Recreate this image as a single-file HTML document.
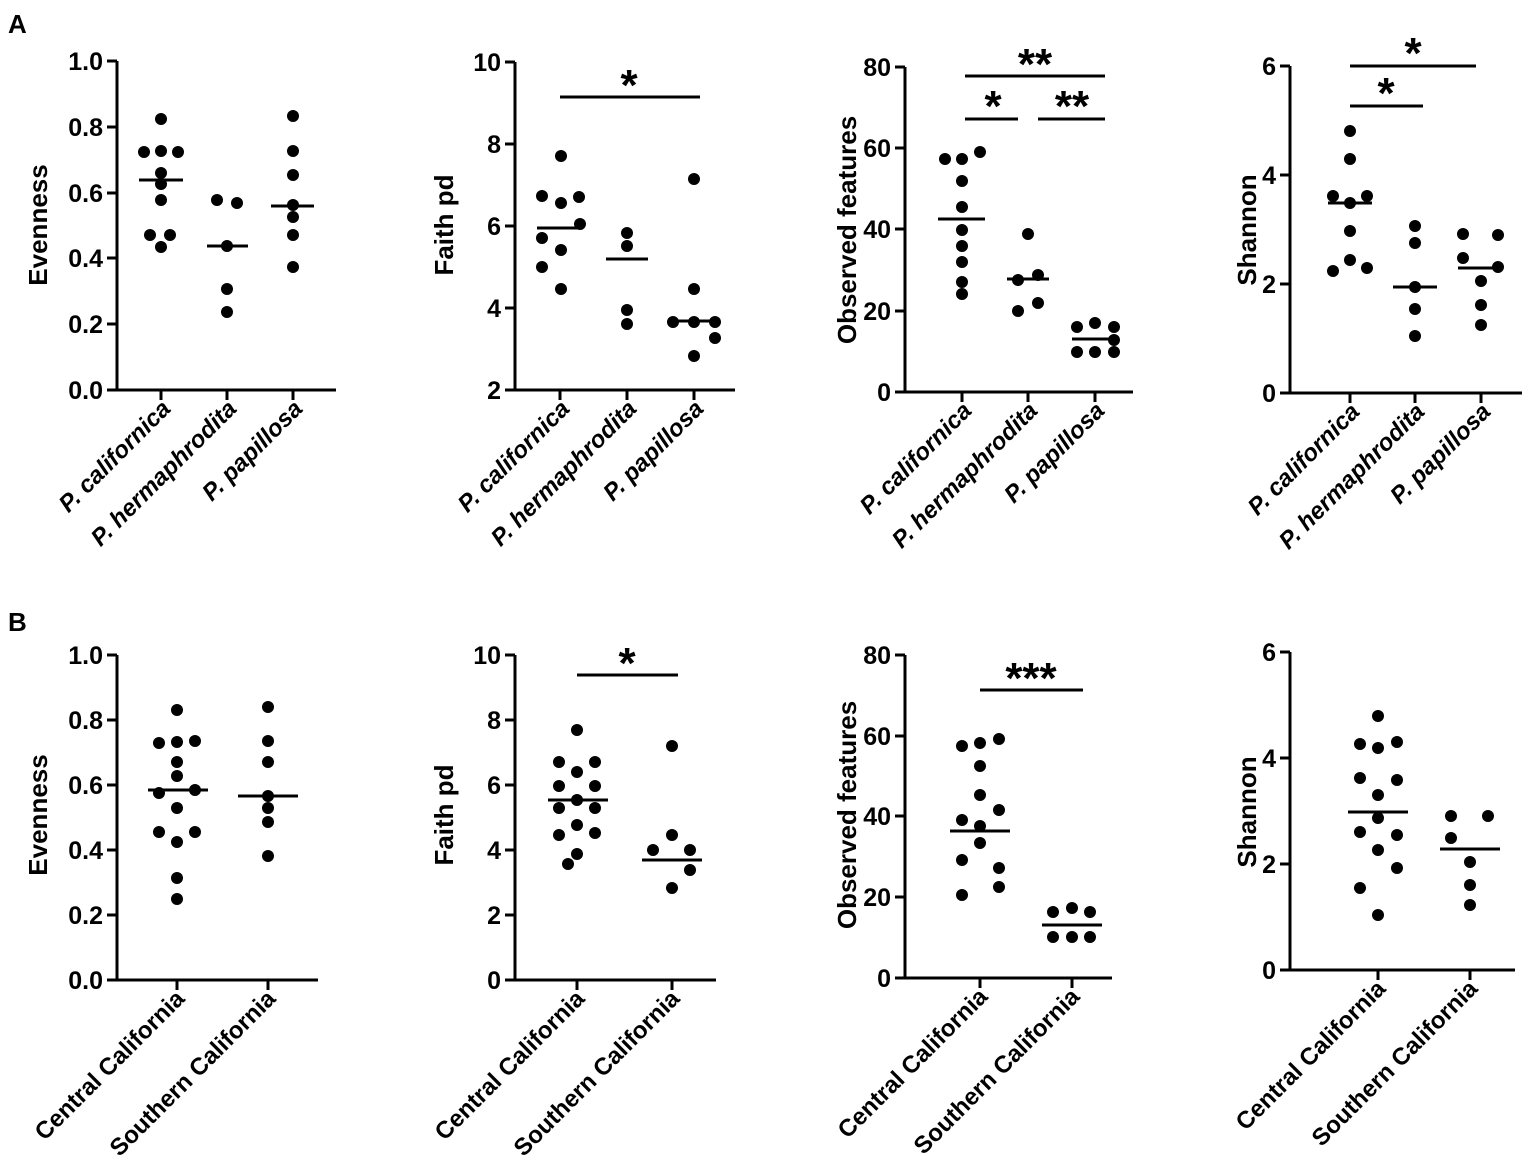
<!DOCTYPE html>
<html><head><meta charset="utf-8"><style>
body{margin:0;background:#fff}
svg{display:block}
text{font-family:"Liberation Sans",Arial,sans-serif;font-weight:bold;fill:#000}
.t{font-size:25px}
.yl{font-size:26px}
.xl{font-size:24px}
.it{font-style:italic}
.ax{stroke:#000;stroke-width:3;fill:none}
.ln{stroke:#000;stroke-width:3}
circle{fill:#000}
.st{font-size:44px}
</style></head><body>
<svg width="1535" height="1174" viewBox="0 0 1535 1174">
<text x="8" y="33" style="font-size:26px">A</text>
<text x="8" y="631" style="font-size:26px">B</text>

<!-- A1 Evenness -->
<g>
<path class="ax" d="M117,61 V390 H336 M107,61 H117 M107,127 H117 M107,193 H117 M107,258 H117 M107,324 H117 M107,390 H117 M161,390 V400 M227,390 V400 M293,390 V400"/>
<g class="t" text-anchor="end"><text x="103" y="70">1.0</text><text x="103" y="136">0.8</text><text x="103" y="202">0.6</text><text x="103" y="267">0.4</text><text x="103" y="333">0.2</text><text x="103" y="399">0.0</text></g>
<text class="yl" transform="translate(47,225) rotate(-90)" text-anchor="middle">Evenness</text>
<circle cx="161" cy="119" r="6"/><circle cx="144" cy="152" r="6"/><circle cx="161" cy="151" r="6"/><circle cx="178" cy="152" r="6"/><circle cx="161" cy="173" r="6"/><circle cx="161" cy="184" r="6"/><circle cx="161" cy="200" r="6"/><circle cx="150" cy="235" r="6"/><circle cx="170" cy="235" r="6"/><circle cx="161" cy="247" r="6"/>
<circle cx="217" cy="200" r="6"/><circle cx="237" cy="203" r="6"/><circle cx="227" cy="246" r="6"/><circle cx="227" cy="289" r="6"/><circle cx="227" cy="312" r="6"/>
<circle cx="293" cy="116" r="6"/><circle cx="293" cy="151" r="6"/><circle cx="293" cy="175" r="6"/><circle cx="293" cy="205" r="6"/><circle cx="293" cy="217" r="6"/><circle cx="293" cy="235" r="6"/><circle cx="293" cy="267" r="6"/>
<path class="ln" d="M139,180 H183 M207,246 H248 M271,206 H314"/>
<g class="xl it" text-anchor="end"><text transform="translate(172,410) rotate(-45)">P. californica</text><text transform="translate(238,410) rotate(-45)">P. hermaphrodita</text><text transform="translate(304,410) rotate(-45)">P. papillosa</text></g>
</g>

<!-- A2 Faith -->
<g>
<path class="ax" d="M515,62 V390 H735 M505,62 H515 M505,144 H515 M505,226 H515 M505,308 H515 M505,390 H515 M560,390 V400 M627,390 V400 M694,390 V400"/>
<g class="t" text-anchor="end"><text x="501" y="71">10</text><text x="501" y="153">8</text><text x="501" y="235">6</text><text x="501" y="317">4</text><text x="501" y="399">2</text></g>
<text class="yl" transform="translate(453,225) rotate(-90)" text-anchor="middle">Faith pd</text>
<circle cx="561" cy="156" r="6"/><circle cx="542" cy="196" r="6"/><circle cx="579" cy="197" r="6"/><circle cx="561" cy="203" r="6"/><circle cx="580" cy="224" r="6"/><circle cx="542" cy="238" r="6"/><circle cx="561" cy="250" r="6"/><circle cx="542" cy="267" r="6"/><circle cx="561" cy="289" r="6"/>
<circle cx="627" cy="233" r="6"/><circle cx="627" cy="246" r="6"/><circle cx="627" cy="310" r="6"/><circle cx="627" cy="324" r="6"/>
<circle cx="694" cy="179" r="6"/><circle cx="694" cy="289" r="6"/><circle cx="673" cy="322" r="6"/><circle cx="694" cy="322" r="6"/><circle cx="715" cy="322" r="6"/><circle cx="694" cy="356" r="6"/><circle cx="715" cy="338" r="6"/>
<path class="ln" d="M537,228 H583 M606,259 H648 M672,321 H715 M560,97 H700"/>
<text class="st" x="629" y="100" text-anchor="middle">*</text>
<g class="xl it" text-anchor="end"><text transform="translate(571,410) rotate(-45)">P. californica</text><text transform="translate(638,410) rotate(-45)">P. hermaphrodita</text><text transform="translate(705,410) rotate(-45)">P. papillosa</text></g>
</g>

<!-- A3 Observed -->
<g>
<path class="ax" d="M905,67 V392 H1133 M895,67 H905 M895,148 H905 M895,229 H905 M895,311 H905 M895,392 H905 M962,392 V402 M1028,392 V402 M1095,392 V402"/>
<g class="t" text-anchor="end"><text x="891" y="76">80</text><text x="891" y="157">60</text><text x="891" y="238">40</text><text x="891" y="320">20</text><text x="891" y="401">0</text></g>
<text class="yl" transform="translate(856,230) rotate(-90)" text-anchor="middle">Observed features</text>
<circle cx="945" cy="159" r="6"/><circle cx="962" cy="159" r="6"/><circle cx="980" cy="152" r="6"/><circle cx="962" cy="181" r="6"/><circle cx="962" cy="207" r="6"/><circle cx="962" cy="230" r="6"/><circle cx="962" cy="246" r="6"/><circle cx="962" cy="262" r="6"/><circle cx="962" cy="282" r="6"/><circle cx="962" cy="294" r="6"/>
<circle cx="1028" cy="234" r="6"/><circle cx="1038" cy="275" r="6"/><circle cx="1018" cy="280" r="6"/><circle cx="1038" cy="303" r="6"/><circle cx="1018" cy="311" r="6"/>
<circle cx="1095" cy="323" r="6"/><circle cx="1077" cy="327" r="6"/><circle cx="1114" cy="327" r="6"/><circle cx="1114" cy="340" r="6"/><circle cx="1077" cy="352" r="6"/><circle cx="1095" cy="352" r="6"/><circle cx="1114" cy="352" r="6"/>
<path class="ln" d="M938,219 H985 M1007,279 H1049 M1072,339 H1116 M965,76 H1105 M965,119 H1018 M1038,119 H1105"/>
<text class="st" x="1035" y="79" text-anchor="middle">**</text><text class="st" x="993" y="121" text-anchor="middle">*</text><text class="st" x="1072" y="121" text-anchor="middle">**</text>
<g class="xl it" text-anchor="end"><text transform="translate(973,412) rotate(-45)">P. californica</text><text transform="translate(1039,412) rotate(-45)">P. hermaphrodita</text><text transform="translate(1106,412) rotate(-45)">P. papillosa</text></g>
</g>

<!-- A4 Shannon -->
<g>
<path class="ax" d="M1290,66 V393 H1522 M1280,66 H1290 M1280,175 H1290 M1280,284 H1290 M1280,393 H1290 M1350,393 V403 M1415,393 V403 M1481,393 V403"/>
<g class="t" text-anchor="end"><text x="1276" y="75">6</text><text x="1276" y="184">4</text><text x="1276" y="293">2</text><text x="1276" y="402">0</text></g>
<text class="yl" transform="translate(1256,230) rotate(-90)" text-anchor="middle">Shannon</text>
<circle cx="1350" cy="131" r="6"/><circle cx="1350" cy="159" r="6"/><circle cx="1333" cy="196" r="6"/><circle cx="1367" cy="196" r="6"/><circle cx="1350" cy="203" r="6"/><circle cx="1350" cy="231" r="6"/><circle cx="1350" cy="260" r="6"/><circle cx="1333" cy="271" r="6"/><circle cx="1367" cy="268" r="6"/>
<circle cx="1415" cy="226" r="6"/><circle cx="1415" cy="243" r="6"/><circle cx="1415" cy="287" r="6"/><circle cx="1415" cy="309" r="6"/><circle cx="1415" cy="336" r="6"/>
<circle cx="1463" cy="234" r="6"/><circle cx="1498" cy="235" r="6"/><circle cx="1463" cy="258" r="6"/><circle cx="1498" cy="267" r="6"/><circle cx="1481" cy="281" r="6"/><circle cx="1481" cy="305" r="6"/><circle cx="1481" cy="325" r="6"/>
<path class="ln" d="M1328,203 H1372 M1393,287 H1437 M1458,268 H1502 M1350,66 H1476 M1350,106 H1423"/>
<text class="st" x="1413" y="68" text-anchor="middle">*</text><text class="st" x="1386" y="108" text-anchor="middle">*</text>
<g class="xl it" text-anchor="end"><text transform="translate(1361,413) rotate(-45)">P. californica</text><text transform="translate(1426,413) rotate(-45)">P. hermaphrodita</text><text transform="translate(1492,413) rotate(-45)">P. papillosa</text></g>
</g>

<!-- B1 Evenness -->
<g>
<path class="ax" d="M117,655 V980 H318 M107,655 H117 M107,720 H117 M107,785 H117 M107,850 H117 M107,915 H117 M107,980 H117 M177,980 V990 M268,980 V990"/>
<g class="t" text-anchor="end"><text x="103" y="664">1.0</text><text x="103" y="729">0.8</text><text x="103" y="794">0.6</text><text x="103" y="859">0.4</text><text x="103" y="924">0.2</text><text x="103" y="989">0.0</text></g>
<text class="yl" transform="translate(47,815) rotate(-90)" text-anchor="middle">Evenness</text>
<circle cx="177" cy="710" r="6"/><circle cx="159" cy="743" r="6"/><circle cx="177" cy="742" r="6"/><circle cx="195" cy="741" r="6"/><circle cx="177" cy="762" r="6"/><circle cx="177" cy="776" r="6"/><circle cx="195" cy="790" r="6"/><circle cx="159" cy="793" r="6"/><circle cx="177" cy="808" r="6"/><circle cx="159" cy="832" r="6"/><circle cx="195" cy="832" r="6"/><circle cx="177" cy="842" r="6"/><circle cx="177" cy="878" r="6"/><circle cx="177" cy="899" r="6"/>
<circle cx="268" cy="707" r="6"/><circle cx="268" cy="741" r="6"/><circle cx="268" cy="762" r="6"/><circle cx="268" cy="796" r="6"/><circle cx="268" cy="808" r="6"/><circle cx="268" cy="822" r="6"/><circle cx="268" cy="856" r="6"/>
<path class="ln" d="M148,790 H208 M238,796 H298"/>
<g class="xl" text-anchor="end"><text transform="translate(186,1000) rotate(-45)">Central California</text><text transform="translate(277,1000) rotate(-45)">Southern California</text></g>
</g>

<!-- B2 Faith -->
<g>
<path class="ax" d="M515,655 V980 H716 M505,655 H515 M505,720 H515 M505,785 H515 M505,850 H515 M505,915 H515 M505,980 H515 M577,980 V990 M672,980 V990"/>
<g class="t" text-anchor="end"><text x="501" y="664">10</text><text x="501" y="729">8</text><text x="501" y="794">6</text><text x="501" y="859">4</text><text x="501" y="924">2</text><text x="501" y="989">0</text></g>
<text class="yl" transform="translate(453,815) rotate(-90)" text-anchor="middle">Faith pd</text>
<circle cx="577" cy="730" r="6"/><circle cx="559" cy="762" r="6"/><circle cx="595" cy="762" r="6"/><circle cx="577" cy="772" r="6"/><circle cx="559" cy="786" r="6"/><circle cx="595" cy="786" r="6"/><circle cx="577" cy="800" r="6"/><circle cx="559" cy="808" r="6"/><circle cx="595" cy="808" r="6"/><circle cx="577" cy="825" r="6"/><circle cx="559" cy="835" r="6"/><circle cx="595" cy="833" r="6"/><circle cx="577" cy="854" r="6"/><circle cx="568" cy="864" r="6"/>
<circle cx="672" cy="746" r="6"/><circle cx="672" cy="835" r="6"/><circle cx="653" cy="850" r="6"/><circle cx="690" cy="850" r="6"/><circle cx="690" cy="870" r="6"/><circle cx="672" cy="888" r="6"/>
<path class="ln" d="M548,800 H608 M642,860 H702 M577,675 H678"/>
<text class="st" x="627" y="678" text-anchor="middle">*</text>
<g class="xl" text-anchor="end"><text transform="translate(586,1000) rotate(-45)">Central California</text><text transform="translate(681,1000) rotate(-45)">Southern California</text></g>
</g>

<!-- B3 Observed -->
<g>
<path class="ax" d="M905,655 V978 H1112 M895,655 H905 M895,736 H905 M895,816 H905 M895,897 H905 M895,978 H905 M980,978 V988 M1072,978 V988"/>
<g class="t" text-anchor="end"><text x="891" y="664">80</text><text x="891" y="745">60</text><text x="891" y="825">40</text><text x="891" y="906">20</text><text x="891" y="987">0</text></g>
<text class="yl" transform="translate(856,815) rotate(-90)" text-anchor="middle">Observed features</text>
<circle cx="962" cy="746" r="6"/><circle cx="980" cy="743" r="6"/><circle cx="999" cy="739" r="6"/><circle cx="980" cy="766" r="6"/><circle cx="980" cy="795" r="6"/><circle cx="999" cy="810" r="6"/><circle cx="962" cy="820" r="6"/><circle cx="980" cy="826" r="6"/><circle cx="980" cy="843" r="6"/><circle cx="962" cy="860" r="6"/><circle cx="999" cy="868" r="6"/><circle cx="999" cy="887" r="6"/><circle cx="962" cy="895" r="6"/>
<circle cx="1072" cy="908" r="6"/><circle cx="1053" cy="912" r="6"/><circle cx="1090" cy="912" r="6"/><circle cx="1053" cy="937" r="6"/><circle cx="1072" cy="937" r="6"/><circle cx="1090" cy="937" r="6"/>
<path class="ln" d="M950,831 H1010 M1042,925 H1102 M980,690 H1083"/>
<text class="st" x="1031" y="693" text-anchor="middle">***</text>
<g class="xl" text-anchor="end"><text transform="translate(989,998) rotate(-45)">Central California</text><text transform="translate(1081,998) rotate(-45)">Southern California</text></g>
</g>

<!-- B4 Shannon -->
<g>
<path class="ax" d="M1290,652 V970 H1515 M1280,652 H1290 M1280,758 H1290 M1280,864 H1290 M1280,970 H1290 M1378,970 V980 M1470,970 V980"/>
<g class="t" text-anchor="end"><text x="1276" y="661">6</text><text x="1276" y="767">4</text><text x="1276" y="873">2</text><text x="1276" y="979">0</text></g>
<text class="yl" transform="translate(1256,812) rotate(-90)" text-anchor="middle">Shannon</text>
<circle cx="1378" cy="716" r="6"/><circle cx="1360" cy="744" r="6"/><circle cx="1397" cy="742" r="6"/><circle cx="1378" cy="748" r="6"/><circle cx="1360" cy="778" r="6"/><circle cx="1397" cy="780" r="6"/><circle cx="1378" cy="795" r="6"/><circle cx="1378" cy="818" r="6"/><circle cx="1360" cy="832" r="6"/><circle cx="1397" cy="835" r="6"/><circle cx="1378" cy="850" r="6"/><circle cx="1397" cy="868" r="6"/><circle cx="1360" cy="888" r="6"/><circle cx="1378" cy="915" r="6"/>
<circle cx="1451" cy="816" r="6"/><circle cx="1488" cy="816" r="6"/><circle cx="1451" cy="838" r="6"/><circle cx="1470" cy="862" r="6"/><circle cx="1470" cy="885" r="6"/><circle cx="1470" cy="905" r="6"/>
<path class="ln" d="M1348,812 H1408 M1440,849 H1500"/>
<g class="xl" text-anchor="end"><text transform="translate(1387,990) rotate(-45)">Central California</text><text transform="translate(1479,990) rotate(-45)">Southern California</text></g>
</g>
</svg>
</body></html>
